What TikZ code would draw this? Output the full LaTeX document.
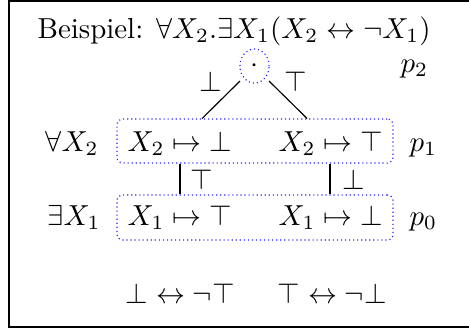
\documentclass[tikz,border=0pt]{standalone}
\usetikzlibrary{shapes.geometric,calc}
\begin{document}
\begin{tikzpicture}[x=0.346pt,y=-0.346pt,
  lbl/.style={inner sep=0pt, anchor=base west},
  clbl/.style={inner sep=0pt, anchor=base},
  grp/.style={draw=blue!85, densely dotted, rounded corners=2pt, minimum width=95.5pt, inner sep=0pt},
  conn/.style={draw=black, line width=0.4pt}]
\useasboundingbox (0,0) rectangle (469,329);
\clip (0,0) rectangle (469,329);
\draw[line width=0.6pt] (520,1) -- (9,1) -- (9,327) -- (520,327);
\node[lbl] (title) at (37,38) {Beispiel: $\forall X_2.\exists X_1(X_2\leftrightarrow\neg X_1)$};
\node[ellipse, draw=blue!85, densely dotted, minimum width=10.1pt, minimum height=11.8pt, inner sep=0pt] (root) at (254.5,66) {};
\node[inner sep=0pt] (dot) at (254.5,66) {$\cdot$};
\node[lbl] (p2) at (400,72) {$p_2$};
\node[clbl] (lbot) at (211,91.5) {$\bot$};
\node[clbl] (ltop) at (296,91.5) {$\top$};
\node[grp, minimum height=15.2pt] (b1) at (255,141) {};
\node[grp, minimum height=15.6pt] (b0) at (255,217.5) {};
\draw[conn] ([shift={(-14.5,15)}]root.center) -- ([xshift=-18.3pt]b1.north);
\draw[conn] ([shift={(14.5,15)}]root.center) -- ([xshift=18pt]b1.north);
\node[lbl] (q2) at (45,151) {$\forall X_2$};
\node[lbl] (a1) at (127,151) {$X_2\mapsto\bot$};
\node[lbl] (a2) at (278,151) {$X_2\mapsto\top$};
\node[lbl] (p1) at (409,151) {$p_1$};
\node[lbl] (q1) at (47,225) {$\exists X_1$};
\node[lbl] (c1) at (127,225) {$X_1\mapsto\top$};
\node[lbl] (c2) at (278,225) {$X_1\mapsto\bot$};
\node[lbl] (p0) at (409,225) {$p_0$};
\draw[conn] ([xshift=-25.95pt]b1.south) -- ([xshift=-25.95pt]b0.north);
\draw[conn] ([xshift=25.95pt]b1.south) -- ([xshift=25.95pt]b0.north);
\node[lbl] (et) at (190,189) {$\top$};
\node[lbl] (eb) at (342,189) {$\bot$};
\node[lbl] (f1) at (125,303) {$\bot\leftrightarrow\neg\top$};
\node[lbl] (f2) at (277,303) {$\top\leftrightarrow\neg\bot$};
\end{tikzpicture}
\end{document}
